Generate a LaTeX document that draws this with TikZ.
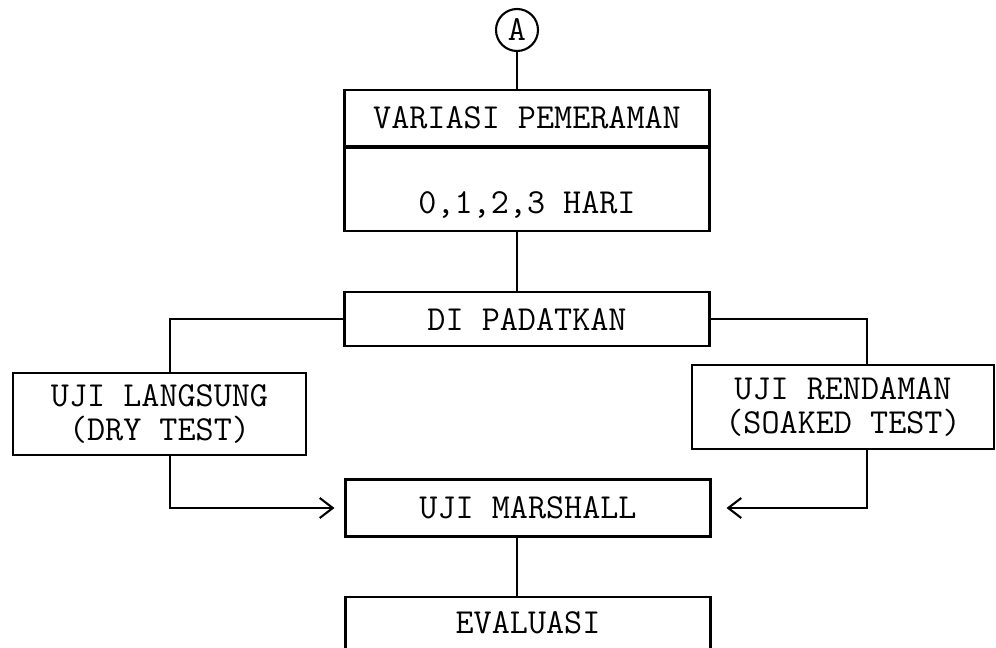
\documentclass[tikz,border=0pt]{standalone}
\usepackage{fontspec}
\usepackage{tikz}
\usetikzlibrary{calc,positioning,arrows.meta}

\begin{document}
\begin{tikzpicture}[
                x=0.02cm,y=-0.02cm,
                node distance=1.16cm,
                line width=1.2pt,
                every node/.append style={draw,inner sep=0pt,font=\fontsize{20}{19}\selectfont\ttfamily},
                box/.style={rectangle,minimum width=7.3cm,align=center},
                >={Straight Barb[length=0.26cm,width=0.4cm]}
            ]
                \useasboundingbox (0,0) rectangle (996,648);
                \node (A)        [circle,minimum size=0.84cm] at (517,30) {A};
                \node (variasi)  [box,minimum height=1.12cm] at (527,118) {VARIASI PEMERAMAN};
                \node (hari)     [box,below=0pt of variasi,text height=1.3cm,text depth=0.36cm] {0,1,2,3 HARI};
                \node (dip)      [box,minimum height=1.08cm,below=1.18cm of hari] {DI PADATKAN};
                \node (langsung) [minimum width=5.86cm,minimum height=1.64cm,align=center] at (159.5,414) {UJI LANGSUNG\\(DRY TEST)};
                \node (rendaman) [minimum width=6.04cm,minimum height=1.68cm,align=center] at (843,407) {UJI RENDAMAN\\(SOAKED TEST)};
                \node (marshall) [box,minimum height=1.14cm] at (528,508) {UJI MARSHALL};
                \node (evaluasi) [box,minimum height=1.04cm,below=of marshall] {EVALUASI};
                \draw (A) -- (A |- variasi.north);
                \draw (hari.south -| A) -- (dip.north -| A);
                \draw (dip.west) -| ($(langsung.north)+(10.5,0)$);
                \draw (dip.east) -| ($(rendaman.north)+(24,0)$);
                \draw [->,shorten >=0.2cm] ($(langsung.south)+(10.5,0)$) |- (marshall.west);
                \draw [->,shorten >=0.3cm] ($(rendaman.south)+(24,0)$) |- (marshall.east);
                \draw (marshall.south -| A) -- (evaluasi.north -| A);
            \end{tikzpicture}
\end{document}
